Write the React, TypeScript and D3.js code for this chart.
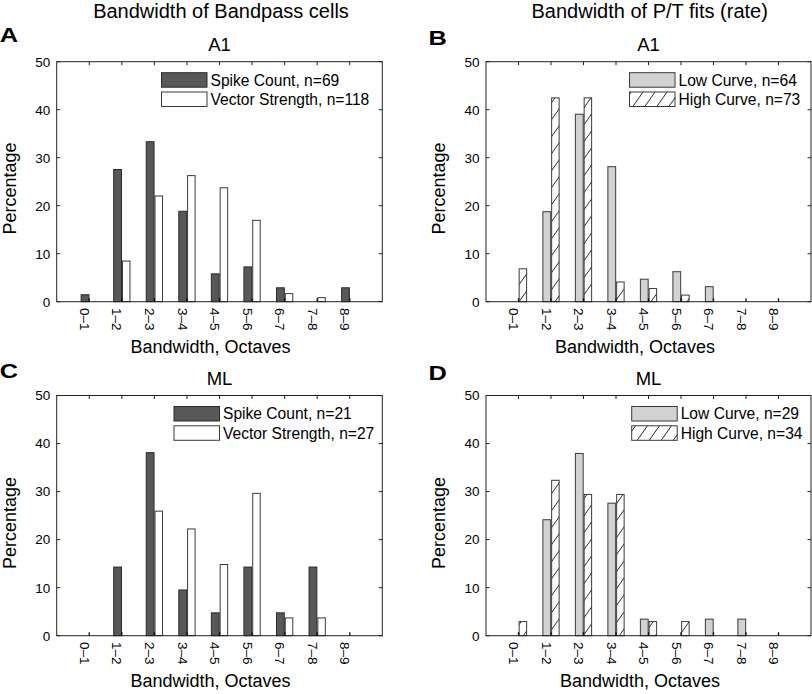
import React from "react";
import * as d3 from "d3";

// ---------- data ----------
const categories = ["0–1", "1–2", "2–3", "3–4", "4–5", "5–6", "6–7", "7–8", "8–9"];
const yTicks = [0, 10, 20, 30, 40, 50];

// Panel A (A1, bandpass cells)
const a1SpikeCount = [1.45, 27.54, 33.33, 18.84, 5.8, 7.25, 2.9, 0, 2.9];
const a1VectorStrength = [0, 8.47, 22.03, 26.27, 23.73, 16.95, 1.69, 0.85, 0];
// Panel B (A1, P/T fits)
const a1LowCurve = [0, 18.75, 39.06, 28.13, 4.69, 6.25, 3.13, 0, 0];
const a1HighCurve = [6.85, 42.47, 42.47, 4.11, 2.74, 1.37, 0, 0, 0];
// Panel C (ML, bandpass cells)
const mlSpikeCount = [0, 14.29, 38.1, 9.52, 4.76, 14.29, 4.76, 14.29, 0];
const mlVectorStrength = [0, 0, 25.93, 22.22, 14.81, 29.63, 3.7, 3.7, 0];
// Panel D (ML, P/T fits)
const mlLowCurve = [0, 24.14, 37.93, 27.59, 3.45, 0, 3.45, 3.45, 0];
const mlHighCurve = [2.94, 32.35, 29.41, 29.41, 2.94, 2.94, 0, 0, 0];

const legendA = ["Spike Count, n=69", "Vector Strength, n=118"];
const legendB = ["Low Curve, n=64", "High Curve, n=73"];
const legendC = ["Spike Count, n=21", "Vector Strength, n=27"];
const legendD = ["Low Curve, n=29", "High Curve, n=34"];

const columnTitles = ["Bandwidth of Bandpass cells", "Bandwidth of P/T fits (rate)"];
const panelLetters = ["A", "B", "C", "D"];
const panelTitles = ["A1", "A1", "ML", "ML"];
const xLabel = "Bandwidth, Octaves";
const yLabel = "Percentage";

// ---------- styles ----------
const FONT = "'Liberation Sans', Arial, Helvetica, sans-serif";
const styles: Record<string, { fill: string; stroke: string }> = {
  dark: { fill: "#585858", stroke: "#2b2b2b" },
  white: { fill: "#ffffff", stroke: "#3a3a3a" },
  gray: { fill: "#d2d2d2", stroke: "#3a3a3a" },
  hatch: { fill: "url(#hatch)", stroke: "#3a3a3a" },
};

type PanelCfg = {
  letter: string;
  title: string;
  x0: number;
  x1: number;
  y0: number;
  y1: number;
  s1: number[];
  s2: number[];
  st1: string;
  st2: string;
  legend: string[];
  legX: number;
  letterX: number;
  letterY: number;
  xLabelX: number;
  yLabelY: number;
};

const panels: PanelCfg[] = [
  { letter: panelLetters[0], title: panelTitles[0], x0: 56.7, x1: 382.3, y0: 61.7, y1: 301.7,
    s1: a1SpikeCount, s2: a1VectorStrength, st1: "dark", st2: "white", legend: legendA,
    legX: 161.5, letterX: -0.3, letterY: 41.8, xLabelX: 210.5, yLabelY: 188.5 },
  { letter: panelLetters[1], title: panelTitles[1], x0: 486, x1: 811, y0: 61.7, y1: 301.7,
    s1: a1LowCurve, s2: a1HighCurve, st1: "gray", st2: "hatch", legend: legendB,
    legX: 629.5, letterX: 428.5, letterY: 44.8, xLabelX: 635, yLabelY: 188.5 },
  { letter: panelLetters[2], title: panelTitles[2], x0: 56.7, x1: 382.3, y0: 395.5, y1: 635.7,
    s1: mlSpikeCount, s2: mlVectorStrength, st1: "dark", st2: "white", legend: legendC,
    legX: 174, letterX: -0.3, letterY: 378.3, xLabelX: 210.5, yLabelY: 523 },
  { letter: panelLetters[3], title: panelTitles[3], x0: 486, x1: 811, y0: 395.5, y1: 635.7,
    s1: mlLowCurve, s2: mlHighCurve, st1: "gray", st2: "hatch", legend: legendD,
    legX: 631.7, letterX: 428.5, letterY: 379.8, xLabelX: 640, yLabelY: 523 },
];

function Panel({ p }: { p: PanelCfg }) {
  const x = d3.scaleLinear().domain([0, 10]).range([p.x0, p.x1]);
  const y = d3.scaleLinear().domain([0, 50]).range([p.y1, p.y0]);
  const bw = 0.25;
  const tl = 3.5;
  const bars: React.ReactNode[] = [];
  categories.forEach((c, i) => {
    const cx = i + 1;
    const v1 = p.s1[i];
    const v2 = p.s2[i];
    if (v1 > 0) {
      const s = styles[p.st1];
      bars.push(
        <rect key={"a" + i} x={x(cx - bw)} y={y(v1)} width={x(cx - 0.01) - x(cx - bw)}
          height={y(0) - y(v1)} fill={s.fill} stroke={s.stroke} strokeWidth={1} />
      );
    }
    if (v2 > 0) {
      const s = styles[p.st2];
      bars.push(
        <rect key={"b" + i} x={x(cx + 0.02)} y={y(v2)} width={x(cx + bw) - x(cx + 0.02)}
          height={y(0) - y(v2)} fill={s.fill} stroke={s.stroke} strokeWidth={1} />
      );
    }
  });
  const cxMid = (p.x0 + p.x1) / 2;
  const lw = 45.5;
  const lh = 14.5;
  const ly1 = p.y0 + 11;
  const ly2 = p.y0 + 30.3;
  const s1 = styles[p.st1];
  const s2 = styles[p.st2];
  return (
    <g fontFamily={FONT} fill="#000">
      <text transform={`translate(${p.letterX},${p.letterY}) scale(1.3,1)`} fontSize={19.5}
        fontWeight="bold">{p.letter}</text>
      <text x={cxMid} y={p.y0 - 11} fontSize={18.5} textAnchor="middle">{p.title}</text>
      {bars}
      {/* frame */}
      <rect x={p.x0} y={p.y0} width={p.x1 - p.x0} height={p.y1 - p.y0}
        fill="none" stroke="#222" strokeWidth={1} />
      {/* y ticks */}
      {yTicks.map((t) => (
        <g key={"y" + t}>
          <line x1={p.x0} x2={p.x0 + tl} y1={y(t)} y2={y(t)} stroke="#222" />
          <line x1={p.x1} x2={p.x1 - tl} y1={y(t)} y2={y(t)} stroke="#222" />
          <text x={p.x0 - 6.5} y={y(t)} dy="0.36em" fontSize={13.5} textAnchor="end">{t}</text>
        </g>
      ))}
      {/* x ticks */}
      {categories.map((c, i) => (
        <g key={"x" + i}>
          <line x1={x(i + 1)} x2={x(i + 1)} y1={p.y1} y2={p.y1 - tl} stroke="#111" strokeWidth={1.3} />
          <line x1={x(i + 1)} x2={x(i + 1)} y1={p.y0} y2={p.y0 + tl} stroke="#222" />
          <text transform={`translate(${x(i + 1) + 0.3},${p.y1 + 6.3}) rotate(90)`} dy="0.72em"
            fontSize={13.5}>{c}</text>
        </g>
      ))}
      {/* axis labels */}
      <text x={p.xLabelX} y={p.y1 + 51} fontSize={18} textAnchor="middle">{xLabel}</text>
      <text transform={`translate(${p.x0 - 40.7},${p.yLabelY}) rotate(-90)`} fontSize={18}
        textAnchor="middle">{yLabel}</text>
      {/* legend */}
      <rect x={p.legX} y={ly1} width={lw} height={lh} fill={s1.fill} stroke={s1.stroke} />
      <rect x={p.legX} y={ly2} width={lw} height={lh} fill={s2.fill} stroke={s2.stroke} />
      <text x={p.legX + lw + 3.5} y={ly1 + lh / 2} dy="0.36em" fontSize={15.6}>{p.legend[0]}</text>
      <text x={p.legX + lw + 3.5} y={ly2 + lh / 2} dy="0.36em" fontSize={15.6}>{p.legend[1]}</text>
    </g>
  );
}

export default function App() {
  return (
    <div style={{ position: "absolute", left: 0, top: 0 }}>
      <svg width={812} height={694} viewBox="0 0 812 694" style={{ display: "block" }}>
        <defs>
          <pattern id="hatch" patternUnits="userSpaceOnUse" width={12} height={17}>
            <rect width={12} height={17} fill="#fff" />
            <path d="M0,17 L12,0 M-3,4.25 L3,-4.25 M9,21.25 L15,12.75" stroke="#111" strokeWidth={0.9} />
          </pattern>
        </defs>
        <rect width={812} height={694} fill="#fff" />
        <text x={221} y={18} fontFamily={FONT} fontSize={20} textAnchor="middle">{columnTitles[0]}</text>
        <text x={649.7} y={18.3} fontFamily={FONT} fontSize={20} textAnchor="middle">{columnTitles[1]}</text>
        {panels.map((p) => (
          <Panel key={p.letter} p={p} />
        ))}
      </svg>
    </div>
  );
}
